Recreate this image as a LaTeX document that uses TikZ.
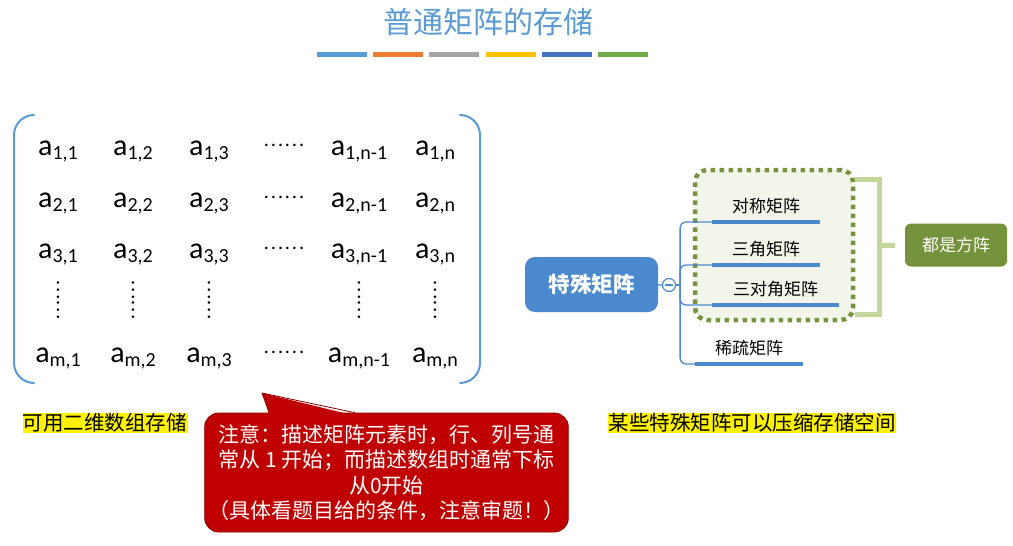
\documentclass[tikz,border=0pt]{standalone}
\usepackage{fontspec}
\setmainfont{Noto Sans CJK SC}
\newfontfamily\matfont{Carlito}
\usetikzlibrary{calc}

\definecolor{titleblue}{RGB}{91,155,213}
\definecolor{barA}{RGB}{91,155,213}
\definecolor{barB}{RGB}{237,125,49}
\definecolor{barC}{RGB}{165,165,165}
\definecolor{barD}{RGB}{255,192,0}
\definecolor{barE}{RGB}{68,114,196}
\definecolor{barF}{RGB}{112,173,71}
\definecolor{mmblue}{RGB}{74,137,205}
\definecolor{notered}{RGB}{192,0,0}
\definecolor{notebrd}{RGB}{140,0,0}
\definecolor{grpolive}{RGB}{119,147,60}
\definecolor{grpfill}{RGB}{242,246,234}
\definecolor{brkgreen}{RGB}{195,214,155}
\definecolor{samegreen}{RGB}{118,146,60}

\newcommand\elem[2]{a\raisebox{-4.5pt}{\fontsize{20}{20}\selectfont#1,#2}}

\begin{document}
\begin{tikzpicture}[x=1pt, y=-1pt, line cap=round, line join=round,
  entry/.style={anchor=base, inner sep=0pt, font=\matfont\fontsize{30}{30}\selectfont},
  hdots/.style={inner sep=0pt, font=\fontsize{19}{19}\selectfont},
  vdots/.style={hdots, rotate=90},
  hilite/.style={fill=yellow, inner sep=0.5pt, font=\fontsize{20.5}{20.5}\selectfont},
  note/.style={fill=notered, draw=notebrd, line width=0.8pt, rounded corners=14pt,
    minimum width=363, minimum height=119, text=white, align=center,
    font=\fontsize{21}{25.5}\selectfont},
  root/.style={fill=mmblue, rounded corners=10pt, minimum width=133, minimum height=55,
    text=white, font=\bfseries\fontsize{21.5}{21.5}\selectfont},
  fold/.style={circle, draw=mmblue, fill=white, line width=1.2pt, minimum size=13, inner sep=0pt},
  leaf/.style={anchor=south west, inner xsep=0pt, inner ysep=8pt, font=\fontsize{17}{17}\selectfont},
  uline/.style={mmblue, line width=3.5pt, line cap=butt},
  branch/.style={mmblue, line width=1.3pt, rounded corners=6pt},
  grp/.style={draw=grpolive, fill=grpfill, line width=4.5pt, line cap=butt,
    dash pattern=on 4.5pt off 4.5pt, rounded corners=12pt, minimum width=158, minimum height=150},
  brk/.style={brkgreen, line width=5pt, line cap=butt, line join=miter},
  same/.style={fill=samegreen, rounded corners=6pt, minimum width=102, minimum height=43,
    text=white, font=\fontsize{17}{17}\selectfont}]

  \useasboundingbox (0,0) rectangle (1013,546);

  %% ---- title + colour bars ----
  \node[text=titleblue, font=\fontsize{30}{30}\selectfont] (title) at (488,22) {普通矩阵的存储};
  \foreach \c [count=\i from 0] in {barA,barB,barC,barD,barE,barF}
    \fill[\c] (317+56.2*\i,52) rectangle ++(50,5);

  %% ---- matrix entries ----
  \foreach \r/\y [count=\i] in {1/155, 2/207, 3/258, m/362}{
    \foreach \c/\x [count=\j] in {1/58, 2/133, 3/209, n-1/359, n/435}
      \node[entry] (a\i\j) at (\x,\y) {\elem{\r}{\c}};
    \node[hdots] (h\i) at (284,\y-10) {……};
  }
  \foreach \x [count=\j] in {58,133,209,359,435}
    \node[vdots] (v\j) at (\x,300) {……};

  %% ---- brackets ----
  \draw[titleblue, line width=2pt, rounded corners=20pt] (33,115) -- (14,115) -- (14,383) -- (33,383);
  \draw[titleblue, line width=2pt, rounded corners=20pt] (460,115) -- (480,115) -- (480,383) -- (460,383);

  %% ---- highlighted notes ----
  \node[hilite] (store2d) at (105,423) {可用二维数组存储};
  \node[hilite] (compress) at (752,423) {某些特殊矩阵可以压缩存储空间};

  %% ---- callout ----
  \node[note] (note) at (386.5,472.5)
    {注意：描述矩阵元素时，行、列号通\\常从 1 开始；而描述数组时通常下标\\从0开始\\（具体看题目给的条件，注意审题！）};
  \coordinate (tip) at (262,393);
  \fill[notered] ([xshift=-117pt,yshift=-3pt]note.north) -- (tip) -- ([xshift=-32pt,yshift=-3pt]note.north) -- cycle;
  \draw[notebrd, line width=0.8pt] ([xshift=-117pt]note.north) -- (tip) -- ([xshift=-32pt]note.north);

  %% ---- mind map ----
  \node[grp] (grp) at (774,245) {};
  \node[root] (root) at (591.5,284.5) {特殊矩阵};
  \node[fold] (col) at (669,285) {};
  \draw[mmblue, line width=1.2pt] ([xshift=-3.5pt]col.center) -- ([xshift=3.5pt]col.center);
  \coordinate (trunk) at ([xshift=4pt]col.east);

  \node[leaf, minimum width=108] (sym) at (712,222) {对称矩阵};
  \node[leaf, minimum width=108] (tri) at (712,265) {三角矩阵};
  \node[leaf, minimum width=127] (tridiag) at (712,305) {三对角矩阵};
  \node[leaf, minimum width=108] (sparse) at (695,364) {稀疏矩阵};

  \draw[branch] (root) -- (col);
  \draw[branch] (col) -- (trunk);
  \foreach \n in {sym,tri,tridiag,sparse}{
    \draw[branch] (trunk) |- (\n.south west);
    \draw[uline] (\n.south west) -- (\n.south east);
  }

  %% ---- square matrices group ----
  \node[same] (same) at (956,245) {都是方阵};
  \draw[brk] ([yshift=-12pt]grp.north east) -- ++(24,0) |- ([yshift=8pt]grp.south east);
  \draw[brk, shorten >=10pt] ([xshift=24pt]grp.east) -- (same.west);

\end{tikzpicture}
\end{document}
